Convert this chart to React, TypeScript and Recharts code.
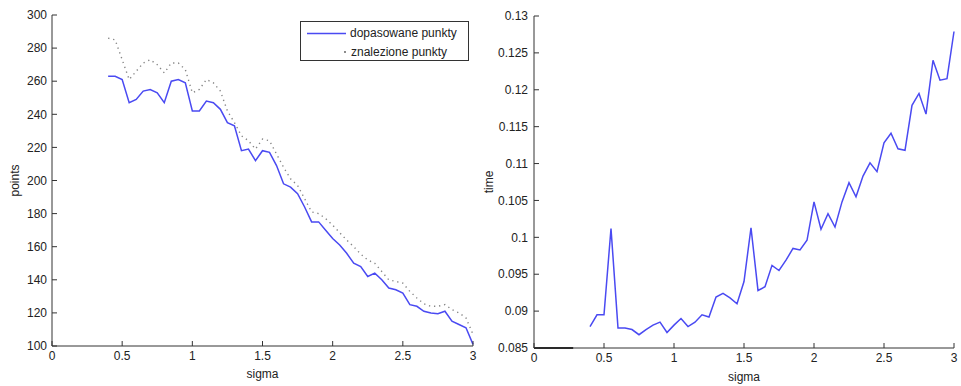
import { LineChart, Line, XAxis, YAxis, Legend, ReferenceLine } from "recharts";

const sigma = [
  0.4, 0.45, 0.5, 0.55, 0.6, 0.65, 0.7, 0.75, 0.8, 0.85, 0.9, 0.95, 1.0, 1.05, 1.1, 1.15, 1.2, 1.25,
  1.3, 1.35, 1.4, 1.45, 1.5, 1.55, 1.6, 1.65, 1.7, 1.75, 1.8, 1.85, 1.9, 1.95, 2.0, 2.05, 2.1, 2.15,
  2.2, 2.25, 2.3, 2.35, 2.4, 2.45, 2.5, 2.55, 2.6, 2.65, 2.7, 2.75, 2.8, 2.85, 2.9, 2.95, 3.0,
];

// dopasowane punkty
const fitted = [
  263, 263, 261, 247, 249, 254, 255, 253, 247, 260, 261, 259, 242, 242, 248, 247, 243, 235,
  233, 218, 219, 212, 218, 217, 209, 198, 196, 192, 184, 175, 175, 170, 165, 161, 156, 150,
  148, 142, 144, 140, 135, 134, 132, 125, 124, 121, 120, 119.5, 121, 115, 113, 111, 101,
];

// znalezione punkty
const found = [
  286, 285, 273, 261, 266, 271, 273, 270, 265, 271, 271, 267, 253, 255, 261, 259, 254, 242,
  235, 227, 224, 219, 225, 224, 216, 208, 201, 197, 189, 181, 180, 177, 173, 168.5, 164, 160,
  155.5, 152, 150, 145, 140, 139, 138, 133, 129, 125.5, 124, 124, 125, 122, 120, 117, 107,
];

const time = [
  0.0879, 0.0895, 0.0895, 0.1012, 0.0877, 0.0877, 0.0875, 0.0868, 0.0875, 0.0881, 0.0885, 0.0871,
  0.0881, 0.089, 0.0879, 0.0885, 0.0895, 0.0892, 0.0919, 0.0924, 0.0918, 0.091, 0.094, 0.1013,
  0.0928, 0.0933, 0.0962, 0.0955, 0.0969, 0.0985, 0.0983, 0.0996, 0.1048, 0.1011, 0.1032, 0.1014,
  0.1048, 0.1074, 0.1055, 0.1083, 0.1101, 0.1089, 0.1128, 0.1141, 0.112, 0.1118, 0.1179, 0.1195,
  0.1167, 0.124, 0.1213, 0.1215, 0.1279,
];

const sigmaTicks = [0, 0.5, 1, 1.5, 2, 2.5, 3];
const pointsTicks = [100, 120, 140, 160, 180, 200, 220, 240, 260, 280, 300];
const timeTicks = [0.085, 0.09, 0.095, 0.1, 0.105, 0.11, 0.115, 0.12, 0.125, 0.13];

const pointsData = sigma.map((s, i) => ({ sigma: s, fitted: fitted[i], found: found[i] }));
const timeData = sigma.map((s, i) => ({ sigma: s, time: time[i] }));

const FONT = "'Liberation Sans', Arial, sans-serif";
const INK = "#333";
const BLUE = "#4a4af2";
const tickStyle = { fontSize: 12, fill: "#222", fontFamily: FONT };

function PointsLegend() {
  return (
    <div
      style={{
        border: `1px solid ${INK}`,
        background: "#fff",
        width: 167,
        height: 38,
        fontFamily: FONT,
        fontSize: 12,
        color: "#222",
        position: "relative",
      }}
    >
      <svg width={45} height={38} style={{ position: "absolute", left: 0, top: 0 }}>
        <line x1={6} x2={46} y1={11.5} y2={11.5} stroke={BLUE} strokeWidth={1.3} />
        <circle cx={44} cy={30} r={0.9} fill="#555" />
      </svg>
      <div style={{ position: "absolute", left: 49, top: 4 }}>dopasowane punkty</div>
      <div style={{ position: "absolute", left: 50, top: 23 }}>znalezione punkty</div>
    </div>
  );
}

export default function App() {
  return (
    <div style={{ position: "absolute", left: 0, top: 0, width: 961, height: 386, background: "#fff" }}>
      <div style={{ position: "absolute", left: 0, top: 0 }}>
        <LineChart width={480} height={386} data={pointsData} margin={{ top: 15, right: 7, bottom: 0, left: 12 }}>
          <XAxis
            dataKey="sigma"
            type="number"
            domain={[0, 3]}
            ticks={sigmaTicks}
            height={40}
            tickSize={-5}
            tickMargin={10}
            tick={tickStyle}
            stroke={INK}
            label={{ value: "sigma", position: "insideBottom", offset: 8, fontSize: 12, fill: "#222", fontFamily: FONT }}
          />
          <XAxis xAxisId="top" orientation="top" dataKey="sigma" type="number" domain={[0, 3]} ticks={sigmaTicks} height={0} tickSize={-5} tick={false} stroke={INK} />
          <YAxis
            type="number"
            domain={[100, 300]}
            ticks={pointsTicks}
            width={40}
            tickSize={-5}
            tickMargin={10}
            tick={tickStyle}
            stroke={INK}
            label={{ value: "points", angle: -90, position: "insideLeft", offset: 3, fontSize: 12, fill: "#222", fontFamily: FONT, style: { textAnchor: "middle" } }}
          />
          <YAxis yAxisId="right" orientation="right" type="number" domain={[100, 300]} ticks={pointsTicks} width={0} tickSize={-5} tick={false} stroke={INK} />
          <Line dataKey="found" stroke="#858585" strokeWidth={1.4} strokeDasharray="1.3 3.8" dot={false} isAnimationActive={false} />
          <Line dataKey="fitted" stroke={BLUE} strokeWidth={1.5} dot={false} isAnimationActive={false} />
          <Legend
            layout="horizontal"
            verticalAlign="middle"
            align="center"
            wrapperStyle={{ left: 300, top: 21, width: 169, height: 40 }}
            content={() => <PointsLegend />}
          />
        </LineChart>
      </div>
      <div style={{ position: "absolute", left: 480, top: 0 }}>
        <LineChart width={481} height={386} data={timeData} margin={{ top: 16, right: 7, bottom: 0, left: 10 }}>
          <XAxis
            dataKey="sigma"
            type="number"
            domain={[0, 3]}
            ticks={sigmaTicks}
            height={38}
            tickSize={-5}
            tickMargin={10}
            tick={tickStyle}
            stroke={INK}
            label={{ value: "sigma", position: "insideBottom", offset: 5, fontSize: 12, fill: "#222", fontFamily: FONT }}
          />
          <XAxis xAxisId="top" orientation="top" dataKey="sigma" type="number" domain={[0, 3]} ticks={sigmaTicks} height={0} tickSize={-5} tick={false} stroke={INK} />
          <YAxis
            type="number"
            domain={[0.085, 0.13]}
            ticks={timeTicks}
            width={44}
            tickSize={-5}
            tickMargin={11}
            tick={tickStyle}
            stroke={INK}
            label={{ value: "time", angle: -90, position: "insideLeft", offset: -1, fontSize: 12, fill: "#222", fontFamily: FONT, style: { textAnchor: "middle" } }}
          />
          <YAxis yAxisId="right" orientation="right" type="number" domain={[0.085, 0.13]} ticks={timeTicks} width={0} tickSize={-5} tick={false} stroke={INK} />
          <ReferenceLine
            segment={[{ x: 0, y: 0.085 }, { x: 0.28, y: 0.085 }]}
            stroke="#222"
            strokeWidth={2}
          />
          <Line dataKey="time" stroke={BLUE} strokeWidth={1.5} dot={false} isAnimationActive={false} />
        </LineChart>
      </div>
    </div>
  );
}
